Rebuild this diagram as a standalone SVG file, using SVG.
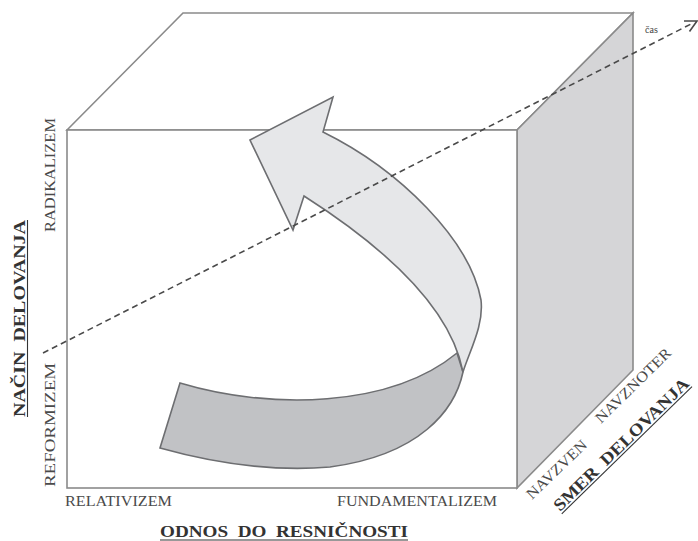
<svg xmlns="http://www.w3.org/2000/svg" width="698" height="541" viewBox="0 0 698 541">
<style>
.face{stroke:#8a8a8a;stroke-width:1.6;stroke-linejoin:miter}
.lbl{font-family:"Liberation Serif","Times New Roman",serif;font-size:15px;fill:#4a4a4a}
.ttl{font-family:"Liberation Serif","Times New Roman",serif;font-size:17px;font-weight:bold;fill:#333}
.ul{stroke:#333;stroke-width:1.1}
.rib{stroke:#6d6e71;stroke-width:1.6;stroke-linejoin:miter}
.axis{fill:none;stroke:#4a4a4a;stroke-width:1.6}
</style>
<rect width="698" height="541" fill="#fff"/>
<g id="cube">
  <polygon id="top-face" class="face" fill="#fff" points="67,130 183,13 633,13 517,130"/>
  <polygon id="right-face" class="face" fill="#d5d5d7" points="517,130 633,13 633,370 517,488"/>
  <rect id="front-face" class="face" fill="#fff" x="67" y="130" width="450" height="358"/>
</g>
<g id="curved-arrow">
  <path id="arrow-underside" class="rib" fill="#c1c2c5" d="M180,383 C270,410 390,408 457,353 L463,372 C455,410 420,455 330,467 C270,472 210,462 160,448 Z"/>
  <path id="arrow-top" class="rib" fill="#e6e7e9" d="M250,140 L333,97 L323,132 C400,170 470,240 481,300 C484,325 470,350 463,372 C455,330 420,270 304,196 L293,230 Z"/>
</g>
<g id="connectors">
  <path id="time-axis" class="axis" stroke-dasharray="6,4" d="M43,353 L693,23"/>
  <polyline id="time-axis-head" class="axis" points="684,21 697,21 689.5,31.5"/>
</g>
<g id="labels">
  <text font-family="Liberation Serif, Times New Roman, serif" font-size="10" fill="#444" x="645" y="33">čas</text>
  <text class="lbl" transform="translate(55,232) rotate(-90)" textLength="114" lengthAdjust="spacingAndGlyphs">RADIKALIZEM</text>
  <text class="lbl" transform="translate(55,487) rotate(-90)" textLength="124" lengthAdjust="spacingAndGlyphs">REFORMIZEM</text>
  <g transform="translate(25,417) rotate(-90)">
    <text class="ttl" xml:space="preserve" x="0" y="0" textLength="197" lengthAdjust="spacingAndGlyphs">NAČIN  DELOVANJA</text>
    <line class="ul" x1="0" y1="2.5" x2="197" y2="2.5"/>
  </g>
  <text class="lbl" x="65" y="506" textLength="107" lengthAdjust="spacingAndGlyphs">RELATIVIZEM</text>
  <text class="lbl" x="337" y="506" textLength="160" lengthAdjust="spacingAndGlyphs">FUNDAMENTALIZEM</text>
  <g>
    <text class="ttl" xml:space="preserve" x="160" y="537" textLength="248" lengthAdjust="spacingAndGlyphs">ODNOS  DO  RESNIČNOSTI</text>
    <line class="ul" x1="160" y1="540" x2="408" y2="540"/>
  </g>
  <text class="lbl" transform="translate(532,500) rotate(-44)" textLength="78" lengthAdjust="spacingAndGlyphs">NAVZVEN</text>
  <text class="lbl" transform="translate(601,424) rotate(-44.5)" textLength="100" lengthAdjust="spacingAndGlyphs">NAVZNOTER</text>
  <g transform="translate(560,512) rotate(-44.3)">
    <text class="ttl" xml:space="preserve" x="0" y="0" textLength="182" lengthAdjust="spacingAndGlyphs">SMER  DELOVANJA</text>
    <line class="ul" x1="0" y1="2.5" x2="182" y2="2.5"/>
  </g>
</g>
</svg>
